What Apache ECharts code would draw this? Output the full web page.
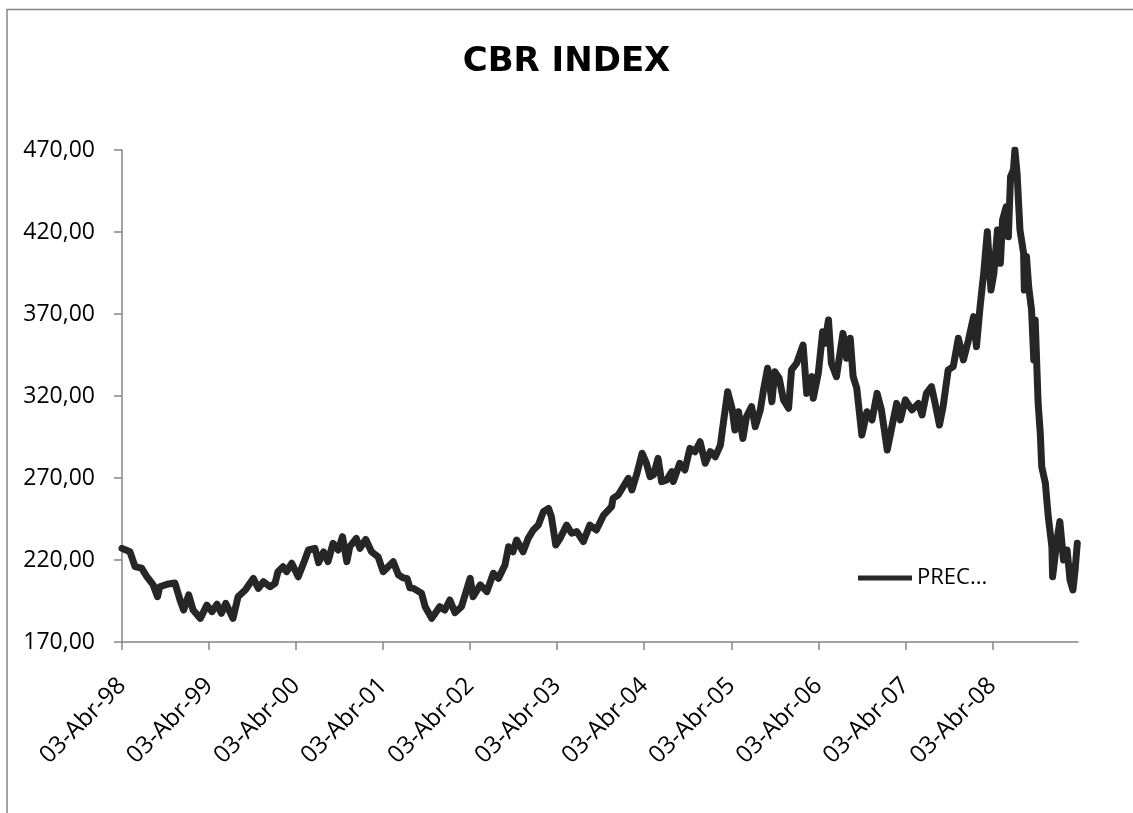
<!DOCTYPE html>
<html>
<head>
<meta charset="utf-8">
<title>CBR INDEX</title>
<script src="https://cdn.jsdelivr.net/npm/echarts@6/dist/echarts.min.js"></script>
<style>
html, body { margin: 0; padding: 0; background: #fff; overflow: hidden; }
#chart { width: 1133px; height: 813px; }
</style>
</head>
<body>
<div id="chart"></div>
<script>
// months since 03-Abr-98
var months = [
  0.0, 1.1, 1.8, 2.7, 3.4, 4.3, 4.9, 5.2, 6.4, 7.3, 8.0, 8.5, 9.2, 9.8, 10.8, 11.7,
  12.4, 13.1, 13.7, 14.3, 15.3, 16.0, 17.0, 18.1, 18.8, 19.5, 20.4, 21.1, 21.5, 22.2, 22.7, 23.4,
  24.3, 25.2, 25.7, 26.6, 27.1, 27.8, 28.4, 29.1, 29.8, 30.4, 31.0, 31.4, 32.3, 32.8, 33.6, 34.4,
  35.3, 36.0, 36.7, 37.4, 38.1, 38.8, 39.3, 39.7, 40.2, 41.3, 41.8, 42.7, 43.8, 44.5, 45.2, 45.9,
  46.8, 48.0, 48.4, 49.4, 50.3, 51.2, 51.9, 52.8, 53.3, 53.9, 54.4, 55.3, 56.0, 56.7, 57.4, 58.1,
  58.8, 59.2, 59.8, 60.4, 61.3, 62.0, 62.7, 63.6, 64.5, 65.4, 66.4, 67.5, 67.7, 68.4, 69.1, 69.8,
  70.3, 71.0, 71.7, 72.3, 72.8, 73.3, 73.9, 74.4, 75.1, 75.8, 76.0, 76.9, 77.6, 78.3, 79.0, 79.7,
  80.4, 81.1, 81.8, 82.5, 82.9, 83.5, 84.1, 84.5, 85.0, 85.6, 86.1, 86.8, 87.3, 88.0, 88.4, 89.0,
  89.6, 90.0, 90.6, 91.2, 91.9, 92.3, 93.0, 93.9, 94.4, 95.1, 95.3, 96.0, 96.6, 96.9, 97.4, 97.8,
  98.5, 99.4, 99.9, 100.4, 100.8, 101.3, 102.0, 102.7, 103.4, 104.1, 104.7, 105.5, 106.1, 106.8, 107.3, 108.0,
  108.9, 109.8, 110.3, 110.9, 111.6, 112.1, 112.7, 113.2, 113.9, 114.6, 115.3, 116.0, 116.7, 117.4, 117.8, 118.3,
  118.8, 119.3, 119.8, 120.2, 120.7, 121.1, 121.4, 121.9, 122.2, 122.5, 122.9, 123.1, 123.4, 123.8, 124.3, 124.4,
  124.7, 125.0, 125.4, 125.7, 125.9, 126.3, 126.6, 126.8, 127.3, 127.7, 128.2, 128.3, 128.9, 129.3, 129.8, 130.3,
  130.7, 131.1, 131.4, 131.7
];

var prices = [
  227.1, 225.0, 216.0, 215.0, 210.0, 204.8, 197.6, 203.7, 205.4, 206.0, 195.6, 189.5, 198.7, 189.5, 184.4, 192.5,
  188.5, 193.0, 187.5, 193.6, 184.4, 197.6, 201.7, 208.8, 202.7, 206.8, 203.7, 205.8, 212.9, 215.9, 212.9, 218.0,
  209.8, 220.0, 226.1, 227.1, 218.4, 225.0, 219.0, 230.2, 226.1, 234.2, 219.0, 228.1, 233.2, 227.1, 232.6, 225.0,
  222.0, 212.9, 215.9, 219.0, 211.0, 209.0, 208.8, 203.0, 202.7, 199.7, 191.5, 184.4, 191.5, 189.5, 195.6, 187.9,
  191.5, 208.8, 197.6, 204.8, 200.7, 211.9, 208.8, 217.0, 228.1, 225.0, 232.2, 225.0, 233.2, 238.3, 241.3, 249.5,
  251.5, 246.4, 229.1, 233.2, 241.3, 236.3, 237.3, 231.2, 241.3, 238.3, 247.4, 252.5, 257.6, 259.6, 264.7, 269.8,
  262.7, 272.9, 285.1, 279.0, 270.8, 272.0, 282.0, 267.8, 268.8, 273.9, 267.8, 279.0, 274.9, 288.1, 286.0, 292.1,
  279.0, 286.1, 283.0, 290.1, 303.4, 322.6, 312.5, 299.3, 310.4, 294.1, 307.4, 313.5, 301.3, 311.5, 322.6, 336.9,
  316.5, 334.8, 330.8, 317.6, 312.5, 335.9, 339.9, 351.1, 321.6, 331.8, 318.6, 334.0, 359.2, 352.1, 366.3, 339.9,
  331.8, 358.2, 343.0, 355.2, 331.8, 324.7, 296.2, 310.4, 305.4, 321.6, 311.5, 287.1, 300.3, 315.5, 305.4, 317.6,
  311.5, 315.5, 308.4, 321.6, 325.7, 315.5, 302.3, 313.5, 335.9, 337.9, 355.2, 342.0, 354.1, 368.4, 350.1, 374.5,
  394.8, 420.2, 384.6, 394.8, 421.2, 400.9, 427.3, 435.4, 417.1, 453.7, 457.8, 470.0, 455.8, 421.2, 407.0, 384.6,
  405.0, 386.6, 372.4, 342.0, 366.3, 316.0, 297.2, 276.9, 266.8, 246.4, 228.1, 209.8, 232.2, 243.4, 220.0, 226.1,
  207.8, 201.7, 213.9, 230.2
];

var xLabels = ['03-Abr-98', '03-Abr-99', '03-Abr-00', '03-Abr-01', '03-Abr-02', '03-Abr-03',
  '03-Abr-04', '03-Abr-05', '03-Abr-06', '03-Abr-07', '03-Abr-08'];
var yLabels = ['170,00', '220,00', '270,00', '320,00', '370,00', '420,00', '470,00'];
var seriesName = 'PREC...';

var chart = echarts.init(document.getElementById('chart'));

var points = months.map(function (m, i) { return [m, prices[i]]; });
var xTicks = xLabels.map(function (l, i) { return i * 12; });

var option = {
  animation: false,
  backgroundColor: '#fff',
  title: {
    text: 'CBR INDEX',
    left: 'center',
    top: 40,
    textStyle: { fontFamily: 'DejaVu Sans', fontWeight: 'bold', fontSize: 34, lineHeight: 34, color: '#000' }
  },
  legend: {
    left: 858,
    top: 567,
    padding: 0,
    icon: 'rect',
    itemWidth: 54,
    itemHeight: 5,
    data: [seriesName],
    textStyle: { fontFamily: 'Open Sans', fontSize: 22, lineHeight: 22, color: '#000' }
  },
  grid: { left: 122, right: 55, top: 150, bottom: 171 },
  xAxis: {
    type: 'value',
    min: 0,
    max: 131.8,
    interval: 12,
    splitLine: { show: false },
    axisLine: { show: true, lineStyle: { color: '#868686', width: 1.5 } },
    axisTick: { show: true, length: 8, customValues: xTicks, lineStyle: { color: '#868686', width: 1.5 } },
    axisLabel: {
      customValues: xTicks,
      rotate: 45,
      margin: 40,
      fontFamily: 'Open Sans',
      fontSize: 24,
      color: '#000',
      formatter: function (v) { return xLabels[Math.round(v / 12)] || ''; }
    }
  },
  yAxis: {
    type: 'value',
    min: 170,
    max: 470,
    interval: 50,
    splitLine: { show: false },
    axisLine: { show: true, lineStyle: { color: '#868686', width: 1.5 } },
    axisTick: { show: true, length: 8, lineStyle: { color: '#868686', width: 1.5 } },
    axisLabel: {
      margin: 27,
      fontFamily: 'Open Sans',
      fontSize: 23,
      color: '#000',
      formatter: function (v) { return yLabels[Math.round((v - 170) / 50)] || ''; }
    }
  },
  series: [{
    name: seriesName,
    type: 'line',
    data: points,
    showSymbol: false,
    smooth: false,
    itemStyle: { color: '#262626' },
    lineStyle: { color: '#262626', width: 7, join: 'round', cap: 'round' }
  }],
  graphic: [{
    type: 'rect',
    shape: { x: 7, y: 9.5, width: 1300, height: 1000 },
    style: { fill: 'none', stroke: '#868686', lineWidth: 1.5 },
    silent: true
  }]
};

chart.setOption(option);
window.onresize = function () { chart.resize(); };
</script>
</body>
</html>
